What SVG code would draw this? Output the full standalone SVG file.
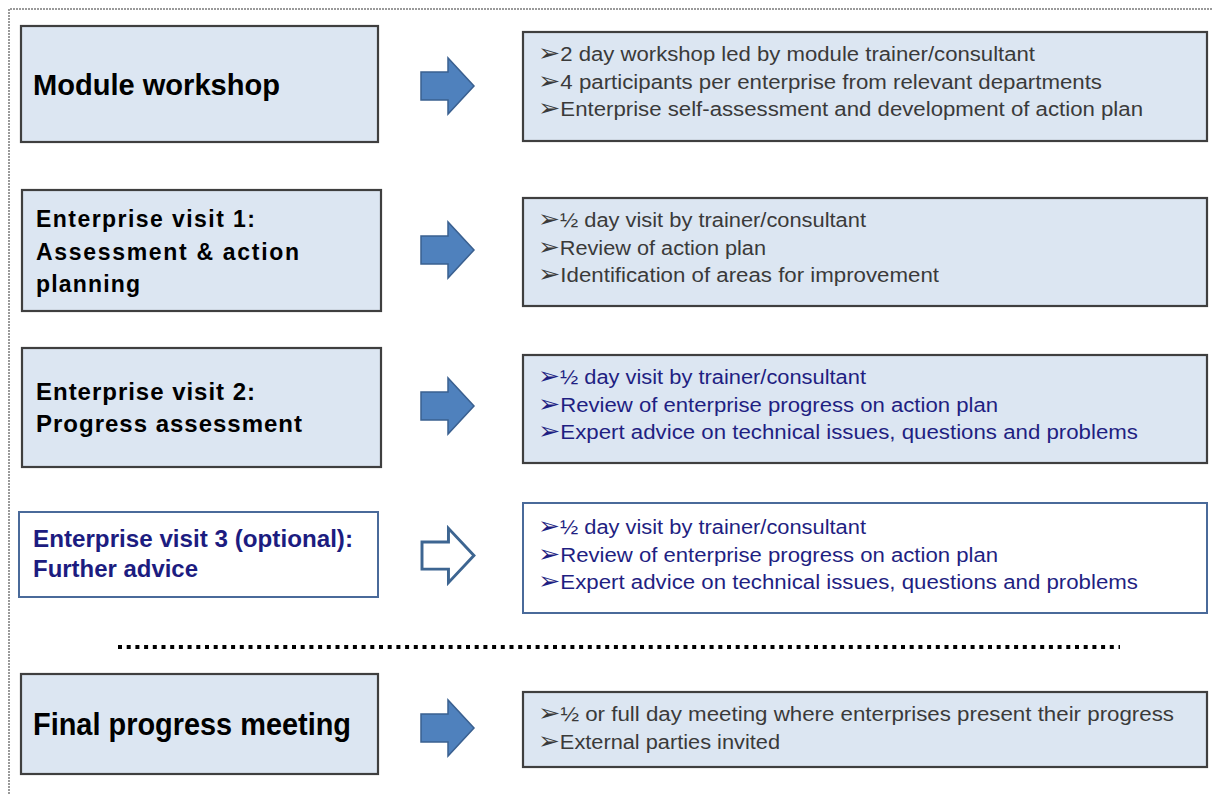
<svg xmlns="http://www.w3.org/2000/svg" width="1212" height="794" viewBox="0 0 1212 794">
<style>
.bx{fill:#dce6f2;stroke:#3f3f3f;stroke-width:2.2}
.bxo{fill:#ffffff;stroke:#4a6a9a;stroke-width:2}
.arr{fill:#4f81bd;stroke:#3a6090;stroke-width:1.5}
.arro{fill:#ffffff;stroke:#3d6591;stroke-width:3}
.lbl{font-family:"Liberation Sans",Arial,sans-serif;font-weight:bold;fill:#000}
.lbln{font-family:"Liberation Sans",Arial,sans-serif;font-weight:bold;fill:#1c1c80}
.it{font-family:"Liberation Sans",Arial,sans-serif;font-size:20px;fill:#3a3a3a}
.itn{font-family:"Liberation Sans",Arial,sans-serif;font-size:20px;fill:#1f1f82}
.bul{font-family:"DejaVu Sans",sans-serif;font-size:24px;font-weight:bold}
</style>
<defs>
<path id="ar" d="M0,-14 H27 V-28 L53,0 L27,28 V14 H0 Z"/>
</defs>
<rect width="1212" height="794" fill="#ffffff"/>
<path d="M9,794 V9 H1212" fill="none" stroke="#9a9a9a" stroke-width="2" stroke-dasharray="2 1"/>

<g id="n1">
<rect class="bx" x="21" y="26" width="357" height="116"/>
<text class="lbl" x="33" y="95" font-size="29" textLength="247" lengthAdjust="spacingAndGlyphs">Module workshop</text>
</g>
<g id="d1">
<rect class="bx" x="523" y="32" width="684" height="109"/>
<text class="it" x="538" y="61" textLength="497" lengthAdjust="spacingAndGlyphs"><tspan class="bul">➢</tspan>2 day workshop led by module trainer/consultant</text>
<text class="it" x="538" y="89" textLength="564" lengthAdjust="spacingAndGlyphs"><tspan class="bul">➢</tspan>4 participants per enterprise from relevant departments</text>
<text class="it" x="538" y="116" textLength="605" lengthAdjust="spacingAndGlyphs"><tspan class="bul">➢</tspan>Enterprise self-assessment and development of action plan</text>
</g>

<g id="n2">
<rect class="bx" x="22" y="190" width="359" height="121"/>
<text class="lbl" x="36" y="227" font-size="23" textLength="219" lengthAdjust="spacing">Enterprise  visit 1:</text>
<text class="lbl" x="36" y="260" font-size="23" textLength="263" lengthAdjust="spacing">Assessment  &amp; action</text>
<text class="lbl" x="36" y="292" font-size="23" textLength="104" lengthAdjust="spacing">planning</text>
</g>
<g id="d2">
<rect class="bx" x="523" y="198" width="684" height="108"/>
<text class="it" x="538" y="227" textLength="328" lengthAdjust="spacingAndGlyphs"><tspan class="bul">➢</tspan>½ day visit by trainer/consultant</text>
<text class="it" x="538" y="255" textLength="228" lengthAdjust="spacingAndGlyphs"><tspan class="bul">➢</tspan>Review of action plan</text>
<text class="it" x="538" y="282" textLength="401" lengthAdjust="spacingAndGlyphs"><tspan class="bul">➢</tspan>Identification of areas for improvement</text>
</g>

<g id="n3">
<rect class="bx" x="22" y="348" width="359" height="119"/>
<text class="lbl" x="36" y="400" font-size="24" textLength="219" lengthAdjust="spacing">Enterprise  visit 2:</text>
<text class="lbl" x="36" y="432" font-size="24" textLength="266" lengthAdjust="spacing">Progress  assessment</text>
</g>
<g id="d3">
<rect class="bx" x="523" y="355" width="684" height="108"/>
<text class="itn" x="538" y="384" textLength="328" lengthAdjust="spacingAndGlyphs"><tspan class="bul">➢</tspan>½ day visit by trainer/consultant</text>
<text class="itn" x="538" y="412" textLength="460" lengthAdjust="spacingAndGlyphs"><tspan class="bul">➢</tspan>Review of enterprise progress on action plan</text>
<text class="itn" x="538" y="439" textLength="600" lengthAdjust="spacingAndGlyphs"><tspan class="bul">➢</tspan>Expert advice on technical issues, questions and problems</text>
</g>

<g id="n4">
<rect class="bxo" x="19" y="512" width="359" height="85"/>
<text class="lbln" x="33" y="547" font-size="24" textLength="320" lengthAdjust="spacingAndGlyphs">Enterprise visit 3 (optional):</text>
<text class="lbln" x="33" y="577" font-size="24" textLength="165" lengthAdjust="spacingAndGlyphs">Further advice</text>
</g>
<g id="d4">
<rect class="bxo" x="523" y="503" width="684" height="110"/>
<text class="itn" x="538" y="534" textLength="328" lengthAdjust="spacingAndGlyphs"><tspan class="bul">➢</tspan>½ day visit by trainer/consultant</text>
<text class="itn" x="538" y="562" textLength="460" lengthAdjust="spacingAndGlyphs"><tspan class="bul">➢</tspan>Review of enterprise progress on action plan</text>
<text class="itn" x="538" y="589" textLength="600" lengthAdjust="spacingAndGlyphs"><tspan class="bul">➢</tspan>Expert advice on technical issues, questions and problems</text>
</g>

<line x1="118" y1="647" x2="1120" y2="647" stroke="#000" stroke-width="4" stroke-dasharray="4 4.7"/>

<g id="n5">
<rect class="bx" x="21" y="674" width="357" height="100"/>
<text class="lbl" x="33" y="735" font-size="32" textLength="318" lengthAdjust="spacingAndGlyphs">Final progress meeting</text>
</g>
<g id="d5">
<rect class="bx" x="523" y="692" width="684" height="75"/>
<text class="it" x="538" y="721" textLength="636" lengthAdjust="spacingAndGlyphs"><tspan class="bul">➢</tspan>½ or full day meeting where enterprises present their progress</text>
<text class="it" x="538" y="749" textLength="242" lengthAdjust="spacingAndGlyphs"><tspan class="bul">➢</tspan>External parties invited</text>
</g>

<g id="connectors">
<use href="#ar" class="arr" transform="translate(421,86)"/>
<use href="#ar" class="arr" transform="translate(421,250)"/>
<use href="#ar" class="arr" transform="translate(421,406)"/>
<use href="#ar" class="arro" transform="translate(422,555.5) scale(0.98,0.97)"/>
<use href="#ar" class="arr" transform="translate(421,728)"/>
</g>
</svg>
